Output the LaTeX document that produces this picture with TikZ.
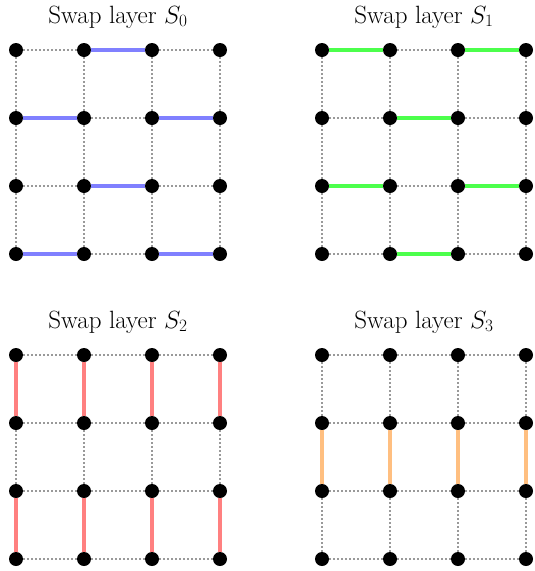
\documentclass[tikz,border=0pt]{standalone}
\begin{document}
\begin{tikzpicture}[x=1pt,y=-1pt,
  dot/.style={circle,fill=black,inner sep=0pt,minimum size=14pt},
  gridline/.style={black!40,line width=2pt,dash pattern=on 2pt off 2pt},
  swp/.style={line width=4pt},
  ttl/.style={font=\fontsize{25}{30}\selectfont,anchor=base,inner sep=0pt}]
\useasboundingbox (0,0) rectangle (535,571);
\foreach \p/\ox/\oy in {0/16/50,1/322/50,2/16/355,3/322/355} {
  \foreach \i in {0,...,3} \foreach \j in {0,...,3}
    \node[dot] (p\p-\i-\j) at ({\ox+68*\i},{\oy+68*\j}) {};
  \node[ttl] (t\p) at ({\ox+102},{\oy-27}) {Swap layer $S_{\p}$};
  \foreach \i [count=\k from 1] in {0,1,2} \foreach \j in {0,...,3} {
    \draw[gridline] (p\p-\i-\j) -- (p\p-\k-\j);
    \draw[gridline] (p\p-\j-\i) -- (p\p-\j-\k);
  }
}
\begin{scope}[swp,blue!50]
  \draw (p0-1-0) -- (p0-2-0);
  \draw (p0-0-1) -- (p0-1-1);
  \draw (p0-2-1) -- (p0-3-1);
  \draw (p0-1-2) -- (p0-2-2);
  \draw (p0-0-3) -- (p0-1-3);
  \draw (p0-2-3) -- (p0-3-3);
\end{scope}
\begin{scope}[swp,green!70]
  \draw (p1-0-0) -- (p1-1-0);
  \draw (p1-2-0) -- (p1-3-0);
  \draw (p1-1-1) -- (p1-2-1);
  \draw (p1-0-2) -- (p1-1-2);
  \draw (p1-2-2) -- (p1-3-2);
  \draw (p1-1-3) -- (p1-2-3);
\end{scope}
\begin{scope}[swp,red!50]
  \foreach \i in {0,...,3} {
    \draw (p2-\i-0) -- (p2-\i-1);
    \draw (p2-\i-2) -- (p2-\i-3);
  }
\end{scope}
\begin{scope}[swp,orange!50]
  \foreach \i in {0,...,3}
    \draw (p3-\i-1) -- (p3-\i-2);
\end{scope}
\end{tikzpicture}
\end{document}
